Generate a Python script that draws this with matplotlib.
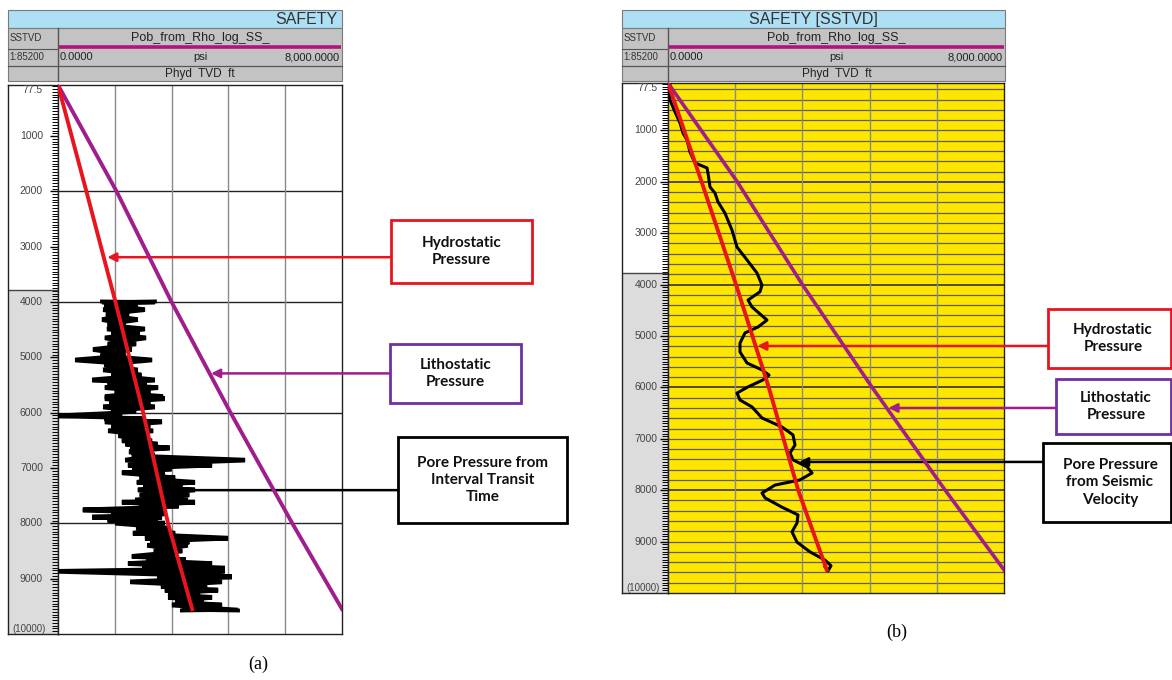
import numpy as np
import matplotlib.pyplot as plt
from matplotlib.patches import Rectangle

plt.rcParams['font.family'] = ['Liberation Sans', 'DejaVu Sans']

W, H = 1172, 680

# ---- data ----
psi_min, psi_max = 0, 8000
depth_top, depth_bottom = 77.5, 10000
depth_labels = [1000, 2000, 3000, 4000, 5000, 6000, 7000, 8000, 9000]

hydro_depth = [77.5, 2000, 4000, 6000, 8000, 9550]
hydro_psi = [0, 800, 1620, 2400, 3100, 3780]

litho_depth = [77.5, 2000, 4000, 6000, 8000, 9550]
litho_psi = [0, 1650, 3200, 4860, 6600, 8000]

# pore pressure from interval transit time: one horizontal swing per depth
itt_depth = [3990, 4040, 4130, 4220, 4310, 4400, 4480, 4560, 4640, 4750,
             4850, 4950, 5040, 5130, 5220, 5310, 5400, 5470, 5540, 5620,
             5700, 5740, 5820, 5890, 5970, 6050, 6100, 6160, 6240, 6320,
             6410, 6500, 6560, 6630, 6700, 6760, 6850, 6940, 7010, 7080,
             7170, 7250, 7320, 7390, 7480, 7570, 7610, 7680, 7750, 7820,
             7880, 7940, 7990, 8080, 8170, 8260, 8330, 8390, 8490, 8590,
             8650, 8720, 8800, 8860, 8960, 9050, 9130, 9200, 9270, 9330,
             9400, 9470, 9560]
itt_low = [1240, 1300, 1270, 1350, 1240, 1400, 1380, 1500, 1320, 1400,
           985, 1200, 480, 1300, 1270, 1500, 960, 1400, 1320, 1600,
           1320, 1320, 1450, 1270, 1500, 0, 1300, 1320, 1500, 1410,
           1700, 1800, 1900, 2030, 2000, 2080, 1890, 1970, 2100, 1800,
           2300, 2220, 2400, 2250, 2300, 2170, 1800, 2300, 700, 1500,
           960, 1400, 1610, 2200, 2110, 2450, 2600, 2510, 2700, 2080,
           2500, 1970, 2370, 0, 2790, 2030, 2900, 3010, 3100, 3100,
           3300, 3210, 3490]
itt_high = [2730, 2250, 2450, 2000, 2250, 1900, 2450, 2300, 2480, 2200,
            2080, 1900, 2650, 2100, 2250, 2350, 2730, 2500, 2820, 2600,
            2960, 3010, 2600, 2730, 2200, 1800, 2400, 2930, 2600, 2680,
            2500, 2650, 2800, 3150, 2700, 2730, 5270, 4340, 3200, 3010,
            3300, 3860, 3500, 3860, 3700, 3660, 3860, 3400, 3010, 3000,
            2930, 2800, 3010, 3100, 3300, 4790, 3700, 3660, 3500, 3300,
            3600, 4340, 4700, 4700, 4900, 4620, 4200, 4510, 4000, 4340,
            4100, 4620, 5070]

# pore pressure from seismic velocity
sv_depth = [83, 410, 640, 855, 1050, 1186, 1420, 1634, 1730, 1830,
            2100, 2220, 2390, 2610, 2940, 3270, 3520, 3775, 4010, 4140,
            4300, 4435, 4690, 4825, 4940, 5140, 5310, 5525, 5660, 5760,
            5855, 5990, 6110, 6245, 6380, 6595, 6770, 6925, 7120, 7275,
            7410, 7545, 7665, 7800, 7900, 8055, 8150, 8330, 8480, 8640,
            8810, 9010, 9200, 9360, 9470, 9570, 9490]
sv_psi = [48, 48, 167, 286, 357, 452, 524, 643, 929, 952,
          1000, 1119, 1190, 1357, 1524, 1643, 1881, 2119, 2238, 2190,
          1905, 2000, 2357, 2143, 1833, 1714, 1714, 1881, 2238, 2405,
          2262, 1905, 1643, 1714, 2000, 2238, 2714, 2976, 3024, 2905,
          2976, 3310, 3429, 3143, 2548, 2238, 2310, 2714, 3095, 3071,
          2952, 3071, 3381, 3738, 3881, 3810, 3738]

RED = '#E8141E'
LITHO = '#A01E8C'
BOX_PURPLE = '#7030A0'


def px(x0, y0, x1, y1):
    return [x0 / W, 1 - y1 / H, (x1 - x0) / W, (y1 - y0) / H]


fig = plt.figure(figsize=(W / 100, H / 100), dpi=100)
ov = fig.add_axes([0, 0, 1, 1])
ov.set_xlim(0, W)
ov.set_ylim(H, 0)
ov.axis('off')


def draw_header(x0, xs, x1, title, centered):
    ov.add_patch(Rectangle((x0, 10), x1 - x0, 18, fc='#ADDFF5', ec='#7a7a7a', lw=0.8))
    ov.add_patch(Rectangle((x0, 28), x1 - x0, 53, fc='#C3C3C3', ec='#7a7a7a', lw=0.8))
    if centered:
        ov.text((x0 + x1) / 2, 19.5, title, ha='center', va='center', fontsize=11.5, color='#333')
    else:
        ov.text(x1 - 4, 19.5, title, ha='right', va='center', fontsize=11.5, color='#333')
    ov.plot([xs, xs], [28, 81], color='#555', lw=1)
    ov.plot([x0, xs], [48.5, 48.5], color='#555', lw=0.8)
    ov.plot([x0, x1], [65.5, 65.5], color='#555', lw=0.9)
    ov.plot([xs + 1, x1 - 1], [46.5, 46.5], color='#B0157F', lw=2.6, solid_capstyle='butt')
    mid = (xs + x1) / 2
    ov.text(x0 + 2, 38, 'SSTVD', fontsize=7, va='center', color='#333')
    ov.text(x0 + 1, 57, '1:85200', fontsize=7, va='center', color='#333')
    ov.text(mid, 37.5, 'Pob_from_Rho_log_SS_', ha='center', va='center', fontsize=9, color='#222')
    ov.text(xs + 2, 57, '0.0000', ha='left', va='center', fontsize=8, color='#222')
    ov.text(mid, 57.5, 'psi', ha='center', va='center', fontsize=8, color='#222')
    ov.text(x1 - 2, 57, '8,000.0000', ha='right', va='center', fontsize=8, color='#222')
    ov.text(mid, 73.5, 'Phyd  TVD  ft', ha='center', va='center', fontsize=8.5, color='#222')


def draw_track(x0, xs, x1, y0, y1, label_x, bg, fine_grid):
    trk = fig.add_axes(px(x0, y0, xs, y1))
    trk.set_ylim(depth_bottom, depth_top)
    trk.set_xlim(0, 1)
    trk.axhspan(3780, depth_bottom, color='#DCDCDC', lw=0)
    trk.axhline(3780, color='#444', lw=1)
    trk.yaxis.tick_right()
    trk.set_yticks(depth_labels)
    trk.set_yticks(np.arange(100, 10000, 50), minor=True)
    trk.tick_params(axis='y', which='major', direction='in', length=6, width=1, labelright=False)
    trk.tick_params(axis='y', which='minor', direction='in', length=4, width=0.7)
    trk.set_xticks([])
    for s in trk.spines.values():
        s.set_color('#222')
        s.set_linewidth(1)
    for d in depth_labels:
        trk.text(label_x, d, str(d), ha='right', va='center', fontsize=7.5, color='#444')
    trk.text(label_x, depth_top, '77.5', ha='right', va='top', fontsize=7.5, color='#444')
    trk.text(label_x + 0.05, depth_bottom, '(10000)', ha='right', va='bottom', fontsize=7, color='#444')

    ax = fig.add_axes(px(xs, y0, x1, y1))
    ax.set_facecolor(bg)
    ax.set_xlim(psi_min, psi_max)
    ax.set_ylim(depth_bottom, depth_top)
    ax.set_xticks([])
    ax.set_yticks([])
    if fine_grid:
        for d in np.arange(200, 10000, 200):
            dark = d % 2000 == 0
            ax.axhline(d, color='#222' if dark else '#5e5e4a', lw=1.1 if dark else 0.9, zorder=1)
    else:
        for d in [2000, 4000, 6000, 8000]:
            ax.axhline(d, color='#222', lw=1, zorder=1)
    for v in np.linspace(psi_min, psi_max, 6)[1:-1]:
        ax.axvline(v, color='#8a8a8a', lw=1, zorder=1)
    for s in ax.spines.values():
        s.set_color('#222')
        s.set_linewidth(1)
    return ax


def arrow(ax, depth, tail_x, psi, color, head=True):
    ax.annotate('', xy=(psi, depth), xytext=(tail_x, depth),
                textcoords=(ov.transData, 'data'),
                arrowprops=dict(arrowstyle='-|>' if head else '-', color=color, lw=1.8,
                                shrinkA=0, shrinkB=0, mutation_scale=13),
                annotation_clip=False)


def box(x0, y0, x1, y1, text, color, cx=None):
    ov.add_patch(Rectangle((x0, y0), x1 - x0, y1 - y0, fill=False, ec=color, lw=2))
    if cx is None:
        cx = (x0 + x1) / 2
    ov.text(cx, (y0 + y1) / 2, text, ha='center', va='center', fontsize=11,
            fontweight='bold', family=['Lato', 'DejaVu Sans'], linespacing=1.3, color='#111')


# ---- panel (a) ----
draw_header(8, 58, 342, 'SAFETY', centered=False)
ax_a = draw_track(8, 58, 342, 85, 634, 0.7, 'white', fine_grid=False)

# the transit-time log swings back and forth, draw both directions of the swing
zx, zy, rx, ry = [], [], [], []
for d, lo, hi in zip(itt_depth, itt_low, itt_high):
    zx += [lo, hi]
    zy += [d, d + 15]
    rx += [hi, lo]
    ry += [d, d + 15]
ax_a.plot(zx, zy, color='black', lw=2.8, zorder=3, solid_joinstyle='miter')
ax_a.plot(rx, ry, color='black', lw=2.8, zorder=3, solid_joinstyle='miter')
ax_a.plot(litho_psi, litho_depth, color=LITHO, lw=2.8, zorder=4)
ax_a.plot(hydro_psi, hydro_depth, color=RED, lw=2.8, zorder=5)

arrow(ax_a, 3190, 391, np.interp(3190, hydro_depth, hydro_psi) + 100, RED)
arrow(ax_a, 5290, 390, np.interp(5290, litho_depth, litho_psi) + 40, LITHO)
arrow(ax_a, 7400, 398, 3750, 'black', head=False)

box(391, 220, 532, 283, 'Hydrostatic\nPressure', RED)
box(390, 344, 521, 403, 'Lithostatic\nPressure', BOX_PURPLE)
box(398, 437, 567, 523, 'Pore Pressure from\nInterval Transit\nTime', 'black')
ov.text(258, 664, '(a)', ha='center', va='center', fontsize=13, family='Liberation Serif')

# ---- panel (b) ----
draw_header(622, 668, 1005, 'SAFETY [SSTVD]', centered=True)
ax_b = draw_track(622, 668, 1004, 83, 593, 0.77, '#FFE600', fine_grid=True)

ax_b.plot(sv_psi, sv_depth, color='black', lw=2.2, zorder=3)
ax_b.plot(litho_psi, litho_depth, color=LITHO, lw=2.6, zorder=4)
ax_b.plot(hydro_psi, hydro_depth, color=RED, lw=2.8, zorder=5)

arrow(ax_b, 5194, 1048, np.interp(5194, hydro_depth, hydro_psi) + 40, RED)
arrow(ax_b, 6400, 1056, np.interp(6400, litho_depth, litho_psi) + 40, LITHO)
arrow(ax_b, 7450, 1043, 3120, 'black')

box(1048, 309, 1171, 368, 'Hydrostatic\nPressure', RED, cx=1113)
box(1056, 379, 1171, 434, 'Lithostatic\nPressure', BOX_PURPLE, cx=1116)
box(1043, 443, 1171, 522, 'Pore Pressure\nfrom Seismic\nVelocity', 'black', cx=1110)
ov.text(897, 632, '(b)', ha='center', va='center', fontsize=13, family='Liberation Serif')

fig.savefig('out.png', dpi=100)
